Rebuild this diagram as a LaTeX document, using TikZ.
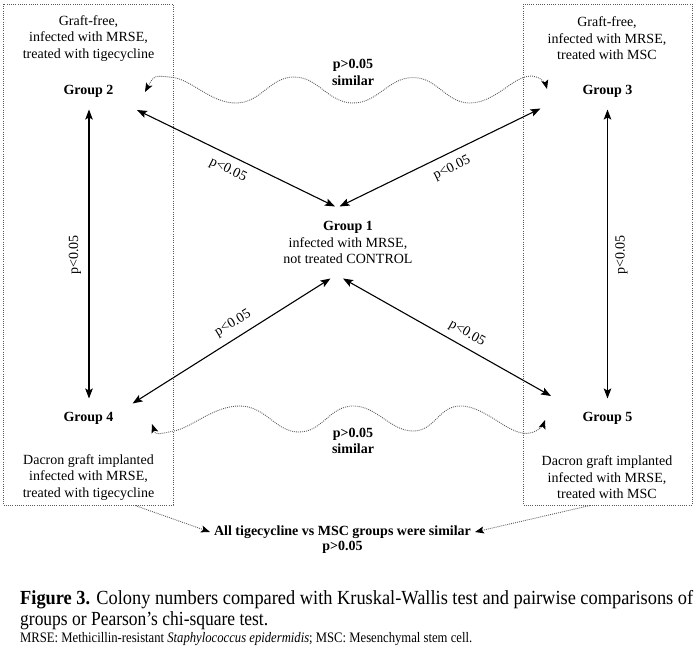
\documentclass[tikz,border=0pt]{standalone}
\usepackage{fontspec}
\setmainfont{Liberation Serif}
\usetikzlibrary{arrows.meta}
\begin{document}
\begin{tikzpicture}[x=1pt,y=-1pt,
  txt/.style={font=\fontsize{14}{16.5}\selectfont, align=center, inner sep=0pt},
  grp/.style={font=\fontsize{14}{16.5}\selectfont\bfseries, align=center, inner sep=0pt},
  rlab/.style={font=\fontsize{14}{16.5}\selectfont, inner sep=0pt},
  tipA/.tip={Stealth[length=10pt,width=7.5pt,inset=2pt]},
  tipB/.tip={Stealth[length=9pt,width=7pt,inset=2pt,color=black]},
  solidarrow/.style={line width=1.1pt, tipA-tipA},
  boxline/.style={draw=black!65, line width=0.9pt, dash pattern=on 0.9pt off 1.3pt},
  waveline/.style={draw=black!65, line width=0.9pt, dash pattern=on 0.9pt off 1.1pt, tipB-tipB},
  oneway/.style={draw=black!65, line width=0.9pt, dash pattern=on 0.9pt off 1.1pt, -tipB},
  captext/.style={anchor=west, inner sep=0pt}
]
\useasboundingbox (0,0) rectangle (697,646);

% dotted boxes
\draw[boxline] (3,4) rectangle (173,505);
\draw[boxline] (523,4) rectangle (692,505);

% texts
\node[txt] (t2) at (88.5,38.5) {Graft-free,\\infected with MRSE,\\treated with tigecycline};
\node[txt] (t3) at (607,38.5) {Graft-free,\\infected with MRSE,\\treated with MSC};
\node[grp] (g2) at (88.5,91) {Group 2};
\node[grp] (g3) at (607.5,91) {Group 3};
\node[grp] (g4) at (88.5,418) {Group 4};
\node[grp] (g5) at (607.5,418) {Group 5};
\node[txt] (t4) at (88.5,477.5) {Dacron graft implanted\\infected with MRSE,\\treated with tigecycline};
\node[txt] (t5) at (607,477.5) {Dacron graft implanted\\infected with MRSE,\\treated with MSC};
\node[txt] (g1) at (348,242.5) {\textbf{Group 1}\\infected with MRSE,\\not treated CONTROL};

% arrow end points
\coordinate (a2) at (137,110);
\coordinate (a1l) at (335,206.5);
\coordinate (a3) at (540.5,108.5);
\coordinate (a1r) at (339.5,206.5);
\coordinate (a4) at (132.5,403.5);
\coordinate (b1l) at (330.5,278.5);
\coordinate (a5) at (551,396);
\coordinate (b1r) at (343,278.5);
\coordinate (v2) at (89,109.5);
\coordinate (v4) at (89,398.5);
\coordinate (v3) at (607.5,109.5);
\coordinate (v5) at (607.5,398.5);

\draw[solidarrow] (a2) -- (a1l);
\draw[solidarrow] (a3) -- (a1r);
\draw[solidarrow] (a4) -- (b1l);
\draw[solidarrow] (a5) -- (b1r);
\draw[solidarrow] (v2) -- (v4);
\draw[solidarrow] (v3) -- (v5);

% labels
\node[rlab, rotate=-26] (la) at (228,170) {p<0.05};
\node[rlab, rotate=26] (lb) at (452,168.5) {p<0.05};
\node[rlab, rotate=31] (lc) at (233,323.5) {p<0.05};
\node[rlab, rotate=-29.5] (ld) at (467,333.5) {p<0.05};
\node[rlab, rotate=90] (lv2) at (75,255) {p<0.05};
\node[rlab, rotate=90] (lv3) at (621.5,255) {p<0.05};

% wavy dotted connectors
\coordinate (w2) at (145,92);
\coordinate (w3) at (547,89);
\draw[waveline] plot[smooth, tension=0.75] coordinates {(w2) (173,77.5) (236,103) (294,77) (353,103) (413,77.5) (470,103) (527,76.5) (w3)};
\node[grp] (s23) at (353,72.5) {p>0.05\\similar};

\coordinate (w4) at (152,424);
\coordinate (w5) at (545,420);
\draw[waveline] plot[smooth, tension=0.75] coordinates {(w4) (174,431) (240,406) (299,432) (353,406) (413,431) (461,406) (522,433) (w5)};
\node[grp] (s45) at (353,441) {p>0.05\\similar};

% bottom summary
\node[font=\fontsize{14}{15.5}\selectfont\bfseries, align=center, inner sep=0pt] (all) at (342.5,539.5) {All tigecycline vs MSC groups were similar\\p>0.05};
\coordinate (bl) at (135,505.5);
\coordinate (br) at (590,505.5);
\coordinate (al) at (210,532);
\coordinate (ar) at (475,532);
\draw[oneway] (bl) -- (al);
\draw[oneway] (br) -- (ar);

% caption
\node[captext] (c1) at (20,600) {\resizebox{673pt}{\height}{\fontsize{20}{22}\selectfont\textbf{Figure 3.} Colony numbers compared with Kruskal-Wallis test and pairwise comparisons of}};
\node[captext] (c2) at (20,620.5) {\resizebox{248pt}{\height}{\fontsize{20}{22}\selectfont groups or Pearson’s chi-square test.}};
\node[captext] (c3) at (20,639.5) {\resizebox{452pt}{\height}{\fontsize{14.5}{16}\selectfont MRSE: Methicillin-resistant \textit{Staphylococcus epidermidis}; MSC: Mesenchymal stem cell.}};
\end{tikzpicture}
\end{document}
